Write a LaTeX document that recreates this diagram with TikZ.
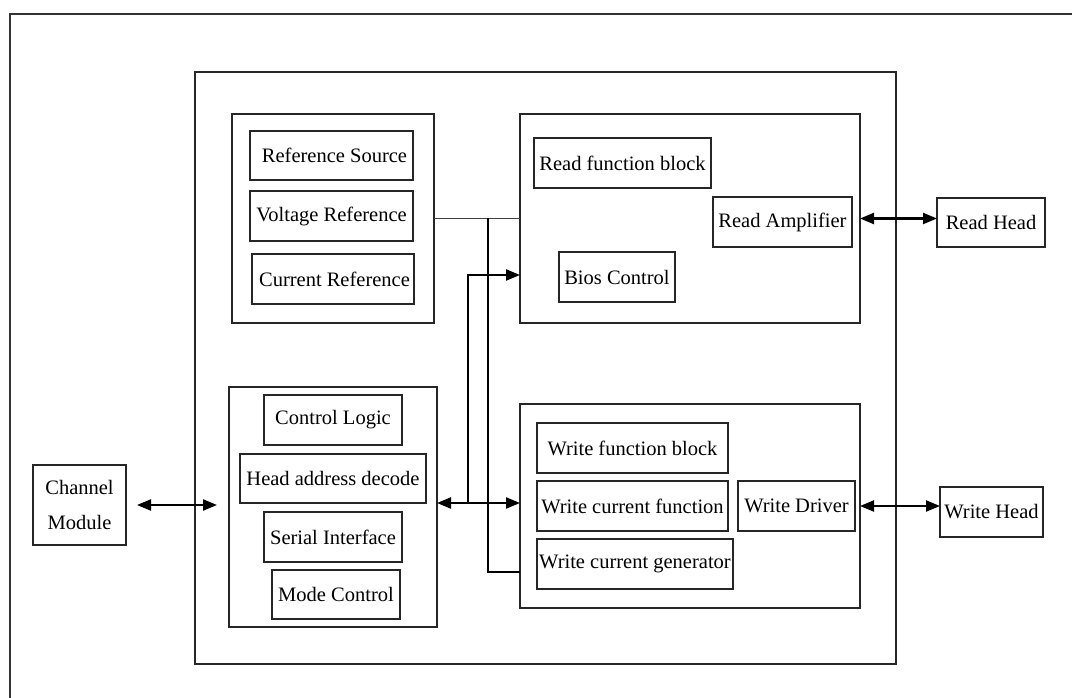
\documentclass[tikz,border=0pt]{standalone}
\usepackage{fontspec}
\setmainfont{Liberation Serif}
\usetikzlibrary{arrows.meta,calc}
\begin{document}
\begin{tikzpicture}[x=1pt,y=-1pt,
  frame/.style={draw=black!80,line width=1.4pt},
  blk/.style={draw=black!85,line width=1.2pt,inner sep=0pt,outer sep=0pt,
    font=\fontsize{20.5}{35}\selectfont,align=center},
  link/.style={draw=black!75,line width=1.2pt},
  bus/.style={draw=black,line width=2.2pt},
  >={Triangle[length=14pt,width=11pt]},
]
\useasboundingbox (0,0) rectangle (1072,698);
\clip (0,0) rectangle (1072,698);

% page frame, running off the right and bottom edges
\draw[frame] (10,14) rectangle (1110,740);

% chip outline
\node[blk,minimum width=701pt,minimum height=592pt] (main) at (545.5,368) {};

% reference group
\node[blk,minimum width=202pt,minimum height=209pt] (refg) at (333,218.5) {};
\node[blk,minimum width=163pt,minimum height=49pt] (rsrc) at (331.5,155.5) {\hspace*{6pt}Reference Source};
\node[blk,minimum width=163pt,minimum height=50pt] (vref) at (331.5,216) {Voltage Reference};
\node[blk,minimum width=162pt,minimum height=50pt] (cref) at (333,279) {\hspace*{3pt}Current Reference};

% read function block
\node[blk,minimum width=340pt,minimum height=209pt] (readb) at (690,218.5) {};
\node[blk,minimum width=177pt,minimum height=50pt] (rfb) at (622.5,163) {Read function block};
\node[blk,minimum width=139pt,minimum height=50pt] (ramp) at (782.5,222) {Read Amplifier};
\node[blk,minimum width=116pt,minimum height=50pt] (bios) at (617,277) {Bios Control};

% control group
\node[blk,minimum width=208pt,minimum height=240pt] (ctlg) at (333,507) {};
\node[blk,minimum width=138pt,minimum height=50pt] (clog) at (333,420) {Control Logic};
\node[blk,minimum width=186pt,minimum height=49pt] (had) at (333,478.5) {Head address decode};
\node[blk,minimum width=138pt,minimum height=50pt] (sif) at (333,537) {Serial Interface};
\node[blk,minimum width=128pt,minimum height=49pt] (mode) at (336,594.5) {Mode Control};

% write function block
\node[blk,minimum width=340pt,minimum height=204pt] (writeb) at (690,506) {};
\node[blk,minimum width=191pt,minimum height=50pt] (wfb) at (632.5,448) {Write function block};
\node[blk,minimum width=191pt,minimum height=50pt] (wcf) at (632.5,506) {Write current function};
\node[blk,minimum width=117pt,minimum height=50pt] (wdrv) at (796.5,506) {Write Driver};
\node[blk,minimum width=196pt,minimum height=50pt] (wcg) at (635,564) {Write current generator};

% external blocks
\node[blk,minimum width=93pt,minimum height=80pt] (chan) at (79.5,505) {Channel\\Module};
\node[blk,minimum width=108pt,minimum height=49pt] (rhead) at (991,222.5) {Read Head};
\node[blk,minimum width=103pt,minimum height=50pt] (whead) at (991.5,512) {Write Head};

% routing points of the internal bus
\coordinate (refjoin) at (488,218.5);
\coordinate (genin) at (520,572);
\coordinate (busl) at (437,503);
\coordinate (busr) at (520,503);
\coordinate (tap) at (468,503);
\coordinate (biosin) at (520,275);

% reference line into read block, dropping to the write current generator
\draw[link] (refg.east) -- (readb.west);
\draw[bus] (refjoin) |- (genin);

% control bus
\draw[bus,<->] (busl) -- (busr);
\draw[bus,->] (tap) |- (biosin);

% external links
\draw[bus,<->,shorten <=11pt,shorten >=12pt] (chan.east) -- (chan.east -| ctlg.west);
\draw[bus,<->] (readb.east) -- (readb.east -| rhead.west);
\draw[bus,<->] (writeb.east) -- (writeb.east -| whead.west);
\end{tikzpicture}
\end{document}
